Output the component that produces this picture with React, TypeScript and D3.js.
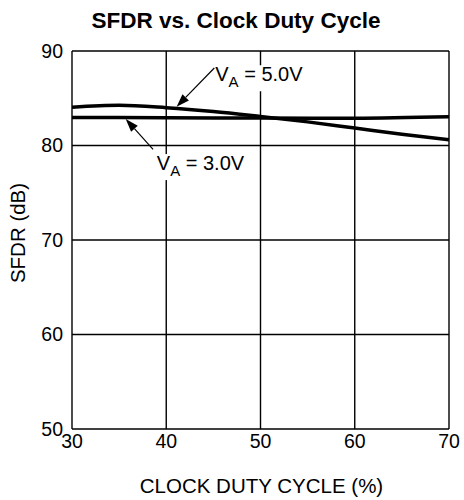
import React from "react";
import * as d3 from "d3";

const title = "SFDR vs. Clock Duty Cycle";
const xLabel = "CLOCK DUTY CYCLE (%)";
const yLabel = "SFDR (dB)";
const xTicks = [30, 40, 50, 60, 70];
const yTicks = [50, 60, 70, 80, 90];

const dutyCycle = [30, 35, 40, 45, 50, 55, 60, 65, 70];
const sfdr5V = [84.05, 84.25, 84.0, 83.6, 83.07, 82.5, 81.85, 81.2, 80.6];
const dutyCycle3V = [30, 40, 50, 60, 70];
const sfdr3V = [82.97, 82.94, 82.9, 82.88, 83.03];

// annotation label / arrow anchor points in data units
const annotations = [
  { sub: "A", rest: " = 5.0V", lx: 45.2, ly: 86.8, sx: 45.1, sy: 88.2, tx: 41.1, ty: 84.1 },
  { sub: "A", rest: " = 3.0V", lx: 39.0, ly: 77.4, sx: 38.6, sy: 79.6, tx: 35.7, ty: 82.8 },
];

const W = 464;
const H = 500;
const M = { left: 72, right: 15, top: 51, bottom: 71 };

export default function App() {
  const x = d3.scaleLinear().domain([30, 70]).range([M.left, W - M.right]);
  const y = d3.scaleLinear().domain([50, 90]).range([H - M.bottom, M.top]);
  const line = d3
    .line<[number, number]>()
    .x((d) => x(d[0]))
    .y((d) => y(d[1]))
    .curve(d3.curveMonotoneX);
  const d5 = line(dutyCycle.map((v, i) => [v, sfdr5V[i]] as [number, number])) || "";
  const d3v = line(dutyCycle3V.map((v, i) => [v, sfdr3V[i]] as [number, number])) || "";
  const font = "'Liberation Sans', Arial, Helvetica, sans-serif";

  return (
    <svg
      width={W}
      height={H}
      style={{ position: "absolute", left: 0, top: 0, background: "#fff" }}
      fontFamily={font}
    >
      <rect x={0} y={0} width={W} height={H} fill="#fff" />
      <text x={236} y={28} textAnchor="middle" fontSize={22.5} fontWeight="bold" fill="#000">
        {title}
      </text>
      {/* grid */}
      {xTicks.map((t) => (
        <line key={"gx" + t} x1={x(t)} x2={x(t)} y1={y(50)} y2={y(90)} stroke="#000" strokeWidth={1.4} />
      ))}
      {yTicks.map((t) => (
        <line key={"gy" + t} x1={x(30)} x2={x(70)} y1={y(t)} y2={y(t)} stroke="#000" strokeWidth={1.4} />
      ))}
      {/* curves */}
      <path d={d3v} fill="none" stroke="#000" strokeWidth={3.5} />
      <path d={d5} fill="none" stroke="#000" strokeWidth={3.5} />
      {/* annotations */}
      {annotations.map((a, i) => {
        const sx = x(a.sx), sy = y(a.sy), tx = x(a.tx), ty = y(a.ty);
        const ang = Math.atan2(ty - sy, tx - sx);
        const L = 13, Wd = 4.5;
        const bx = tx - L * Math.cos(ang), by = ty - L * Math.sin(ang);
        const px = -Math.sin(ang) * Wd, py = Math.cos(ang) * Wd;
        const lx = x(a.lx), ly = y(a.ly);
        return (
          <g key={"a" + i}>
            <rect x={lx - 1} y={ly - 16} width={96} height={26} fill="#fff" />
            <line x1={sx} y1={sy} x2={bx} y2={by} stroke="#000" strokeWidth={1.2} />
            <path d={`M${tx},${ty}L${bx + px},${by + py}L${bx - px},${by - py}Z`} fill="#000" />
            <text x={lx} y={ly} fontSize={20} fill="#000">
              V
              <tspan fontSize={15} dy={6}>{a.sub}</tspan>
              <tspan dy={-6}>{a.rest}</tspan>
            </text>
          </g>
        );
      })}
      {/* tick labels */}
      {yTicks.map((t) => (
        <text key={"ly" + t} x={x(30) - 9} y={y(t)} dy="0.35em" textAnchor="end" fontSize={19.5} fill="#000">
          {t}
        </text>
      ))}
      {xTicks.map((t) => (
        <text key={"lx" + t} x={x(t)} y={448} textAnchor="middle" fontSize={19.5} fill="#000">
          {t}
        </text>
      ))}
      <text x={261.5} y={493} textAnchor="middle" fontSize={20.5} fill="#000">
        {xLabel}
      </text>
      <text
        transform={`translate(25,233) rotate(-90)`}
        textAnchor="middle"
        fontSize={20.5}
        fill="#000"
      >
        {yLabel}
      </text>
    </svg>
  );
}
